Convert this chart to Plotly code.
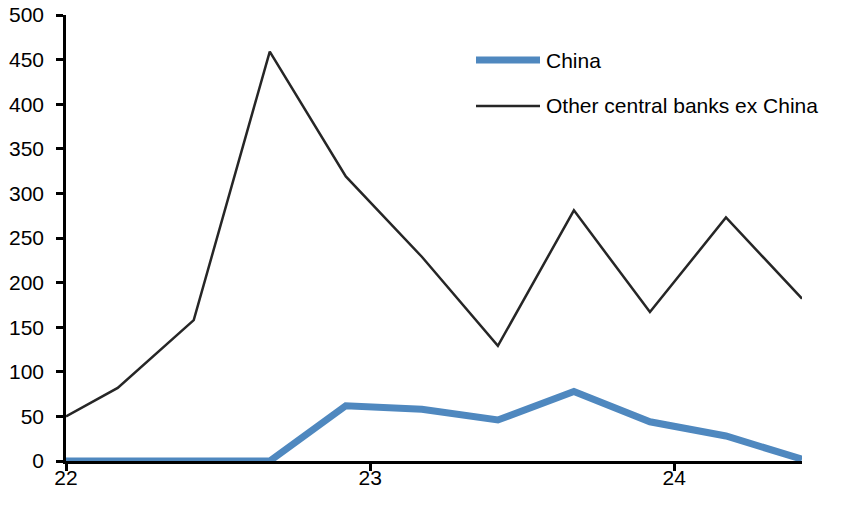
import plotly.graph_objects as go

x_vals = [22.0, 22.17, 22.42, 22.67, 22.92, 23.17, 23.42, 23.67, 23.92, 24.17, 24.42]
china = [0, 0, 0, 0, 62, 58, 46, 78, 44, 28, 2]
other = [50, 82, 158, 459, 319, 229, 129, 281, 167, 273, 182]
x_ticks = [22, 23, 24]
x_tick_labels = ["22", "23", "24"]
y_ticks = [0, 50, 100, 150, 200, 250, 300, 350, 400, 450, 500]

blue = "#4F88BF"
dark = "#262626"

fig = go.Figure()
fig.add_trace(go.Scatter(x=x_vals, y=other, mode="lines", name="Other central banks ex China",
                         line=dict(color=dark, width=2.5), cliponaxis=True))
fig.add_trace(go.Scatter(x=x_vals, y=china, mode="lines", name="China",
                         line=dict(color=blue, width=7), cliponaxis=False))

# manual legend
legend_items = [("China", blue, 7, 0.899), ("Other central banks ex China", dark, 2.5, 0.796)]
for label, col, w, yp in legend_items:
    fig.add_shape(type="line", xref="paper", yref="paper",
                  x0=(476 - 66) / 736, x1=(540 - 66) / 736, y0=yp, y1=yp,
                  line=dict(color=col, width=w))
    fig.add_annotation(xref="paper", yref="paper", x=(544 - 66) / 736, y=yp,
                       text=label, showarrow=False, xanchor="left", yanchor="middle",
                       font=dict(size=21, color="#000000", family="Liberation Sans, Arial"))

fig.update_layout(
    width=852, height=512,
    margin=dict(l=66, r=50, t=15, b=51),
    paper_bgcolor="white", plot_bgcolor="white",
    showlegend=False,
    font=dict(family="Liberation Sans, Arial", size=21, color="#000000"),
)
fig.update_xaxes(range=[22, 24.42], tickvals=x_ticks, ticktext=x_tick_labels, automargin=False,
                 showgrid=False, zeroline=False, showline=True, linecolor="#000000", linewidth=2.5,
                 ticks="outside", ticklen=7, tickwidth=2.5, tickcolor="#000000",
                 tickfont=dict(size=21), ticklabelstandoff=-11, ticklabeloverflow="allow")
fig.update_yaxes(range=[0, 500], tickvals=y_ticks, automargin=False,
                 showgrid=False, zeroline=False, showline=True, linecolor="#000000", linewidth=2.5,
                 ticks="outside", ticklen=7, tickwidth=2.5, tickcolor="#000000",
                 tickfont=dict(size=21), ticklabelstandoff=8, ticklabeloverflow="allow")

fig.write_html("out.html", config={"displayModeBar": False},
               post_script="document.body.style.margin='0';")
